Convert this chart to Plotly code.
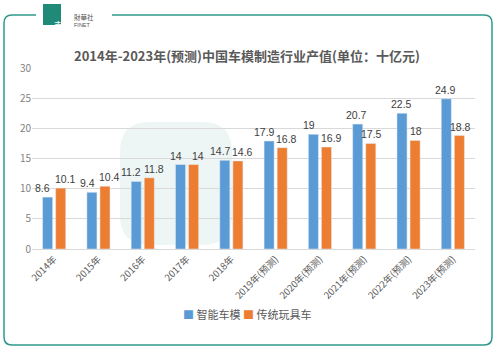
import plotly.graph_objects as go

categories = ["2014年", "2015年", "2016年", "2017年", "2018年",
              "2019年(预测)", "2020年(预测)", "2021年(预测)", "2022年(预测)", "2023年(预测)"]
smart = [8.6, 9.4, 11.2, 14, 14.7, 17.9, 19, 20.7, 22.5, 24.9]
traditional = [10.1, 10.4, 11.8, 14, 14.6, 16.8, 16.9, 17.5, 18, 18.8]
y_ticks = [0, 5, 10, 15, 20, 25, 30]

BLUE, ORANGE = "#5B9BD5", "#ED7D31"
W, H = 496, 349
L, R, T, B = 32, 21, 68, 100
pw, ph = W - L - R, H - T - B

def px(x):
    return (x - L) / pw

def py(y):
    return 1 - (y - T) / ph

fig = go.Figure()
fig.add_trace(go.Bar(name="智能车模", x=categories, y=smart, marker_color=BLUE, offsetgroup="a"))
fig.add_trace(go.Bar(name="传统玩具车", x=categories, y=traditional, marker_color=ORANGE, offsetgroup="b"))

annotations = []
# data labels (offset sideways when the pair is close in height)
for i, c in enumerate(categories):
    a, b = smart[i], traditional[i]
    close = abs(a - b) < 3
    for v, base, side in [(a, -0.165, -1), (b, 0.165, 1)]:
        annotations.append(dict(
            x=i + base, y=v, xref="x", yref="y", text=f"{v:g}", showarrow=False,
            yanchor="bottom", yshift=1, xshift=(4 * side if close else 0),
            font=dict(size=10.5, color="#404040", family="Liberation Sans")))

shapes = []
# faint watermark logo (rounded square)
wx0, wx1, wy0, wy1, wr = 120, 232, 122, 245, 30
wpath = (f"M {px(wx0 + wr)},{py(wy0)} L {px(wx1 - wr)},{py(wy0)} "
         f"Q {px(wx1)},{py(wy0)} {px(wx1)},{py(wy0 + wr)} "
         f"L {px(wx1)},{py(wy1 - wr)} Q {px(wx1)},{py(wy1)} {px(wx1 - wr)},{py(wy1)} "
         f"L {px(wx0 + wr)},{py(wy1)} Q {px(wx0)},{py(wy1)} {px(wx0)},{py(wy1 - wr)} "
         f"L {px(wx0)},{py(wy0 + wr)} Q {px(wx0)},{py(wy0)} {px(wx0 + wr)},{py(wy0)} Z")
shapes.append(dict(type="path", xref="paper", yref="paper", layer="below", path=wpath,
                   fillcolor="rgba(31,138,120,0.08)", line=dict(width=0)))
# rounded border with gap for logo
r = 8
x0, x1, y0, y1 = 4, 492, 15, 345
path = (f"M {px(112)},{py(y0)} L {px(x1 - r)},{py(y0)} "
        f"Q {px(x1)},{py(y0)} {px(x1)},{py(y0 + r)} "
        f"L {px(x1)},{py(y1 - r)} Q {px(x1)},{py(y1)} {px(x1 - r)},{py(y1)} "
        f"L {px(x0 + r)},{py(y1)} Q {px(x0)},{py(y1)} {px(x0)},{py(y1 - r)} "
        f"L {px(x0)},{py(y0 + r)} Q {px(x0)},{py(y0)} {px(x0 + r)},{py(y0)} "
        f"L {px(36)},{py(y0)}")
shapes.append(dict(type="path", xref="paper", yref="paper", path=path,
                   line=dict(color="#2E9A8C", width=1.5)))
# logo square
shapes.append(dict(type="rect", xref="paper", yref="paper",
                   x0=px(43), x1=px(61), y0=py(25), y1=py(4),
                   fillcolor="#1F8A78", line=dict(width=0)))

annotations += [
    dict(text="華", x=px(52), y=py(14.5), xref="paper", yref="paper", showarrow=False,
         font=dict(size=13, color="white", family="Noto Sans CJK TC")),
    dict(text="財華社", x=px(72), y=py(9.5), xref="paper", yref="paper", showarrow=False,
         xanchor="left", font=dict(size=6.5, color="#555555", family="Noto Sans CJK TC")),
    dict(text="FINET", x=px(72), y=py(20), xref="paper", yref="paper", showarrow=False,
         xanchor="left", font=dict(size=5.5, color="#555555", family="Arial")),
    dict(text="<b>2014年-2023年(预测)中国车模制造行业产值(单位：十亿元)</b>",
         x=px(247), y=py(44), xref="paper", yref="paper", showarrow=False,
         font=dict(size=13, color="#595959", family="Noto Sans CJK SC")),
    dict(text=f"<span style='color:{BLUE}'>■</span> 智能车模 "
              f"<span style='color:{ORANGE}'>■</span> 传统玩具车",
         x=px(247), y=py(324), xref="paper", yref="paper", showarrow=False,
         font=dict(size=11, color="#595959", family="Noto Sans CJK SC")),
]

fig.update_layout(
    width=W, height=H,
    margin=dict(l=L, r=R, t=T, b=B),
    paper_bgcolor="white", plot_bgcolor="white",
    barmode="group", bargap=0.41, bargroupgap=0.23,
    font=dict(family="Noto Sans CJK SC", color="#595959"),
    xaxis=dict(tickangle=-45, tickfont=dict(size=9.5, color="#595959"),
               showline=True, linecolor="#D9D9D9", ticks=""),
    yaxis=dict(range=[0, 30], tickvals=y_ticks, showgrid=True, gridcolor="#D9D9D9",
               tickfont=dict(size=10, color="#7F7F7F"), zeroline=False, ticks=""),
    shapes=shapes, annotations=annotations,
    showlegend=False,
)

fig.write_html("out.html")
